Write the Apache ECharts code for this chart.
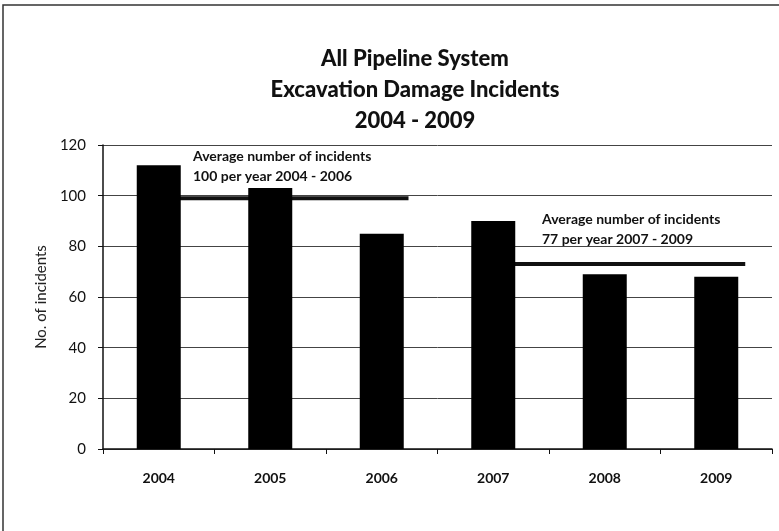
<!DOCTYPE html>
<html>
<head>
<meta charset="utf-8">
<script src="https://cdn.jsdelivr.net/npm/echarts@6/dist/echarts.min.js"></script>
<style>
  html, body { margin: 0; padding: 0; background: #fff; }
  #chart { width: 779px; height: 531px; }
</style>
</head>
<body>
<div id="chart"></div>
<script>
// data
var years = ['2004', '2005', '2006', '2007', '2008', '2009'];
var incidents = [112, 103, 85, 90, 69, 68];
var yTicks = [0, 20, 40, 60, 80, 100, 120];

// average lines: level + span in category units (category i centre = i + 0.5)
var avgLevel1 = 99;
var avgSpan1 = [0.5, 2.74];
var avgLevel2 = 73;
var avgSpan2 = [3.5, 5.76];

var font = 'Lato, "Liberation Sans", sans-serif';

var chart = echarts.init(document.getElementById('chart'));
var option = {
    backgroundColor: '#fff',
    animation: false,
    title: {
        text: 'All Pipeline System\nExcavation Damage Incidents\n2004 - 2009',
        left: 410,
        textAlign: 'center',
        top: 38,
        textStyle: {
            fontFamily: font,
            fontSize: 22,
            fontWeight: 900,
            color: '#111',
            lineHeight: 31
        }
    },
    grid: {
        left: 103,
        right: 7,
        top: 145,
        bottom: 82
    },
    xAxis: [
        {
            type: 'category',
            data: years,
            boundaryGap: true,
            axisLine: { lineStyle: { color: '#111', width: 1.5 } },
            axisTick: { show: true, length: 5, alignWithLabel: false, lineStyle: { color: '#111' } },
            axisLabel: { margin: 22, fontFamily: font, fontSize: 14, fontWeight: 'bold', color: '#111' },
            splitLine: { show: false }
        },
        {
            type: 'value',
            min: 0,
            max: years.length,
            show: false
        }
    ],
    yAxis: {
        type: 'value',
        min: yTicks[0],
        max: yTicks[yTicks.length - 1],
        interval: yTicks[1] - yTicks[0],
        name: 'No. of incidents',
        nameLocation: 'middle',
        nameGap: 54,
        nameTextStyle: { fontFamily: font, fontSize: 15, color: '#222' },
        axisLine: { show: true, lineStyle: { color: '#111', width: 1.5 } },
        axisTick: { show: true, length: 5, lineStyle: { color: '#111' } },
        axisLabel: { margin: 17, fontFamily: font, fontSize: 15, color: '#111' },
        splitLine: { show: true, lineStyle: { color: '#444', width: 1 } }
    },
    series: [
        {
            name: 'avg 2004-2006',
            type: 'line',
            xAxisIndex: 1,
            z: 1,
            symbol: 'none',
            lineStyle: { color: '#111', width: 4 },
            data: [[avgSpan1[0], avgLevel1], [avgSpan1[1], avgLevel1]]
        },
        {
            name: 'avg 2007-2009',
            type: 'line',
            xAxisIndex: 1,
            z: 1,
            symbol: 'none',
            lineStyle: { color: '#111', width: 4 },
            data: [[avgSpan2[0], avgLevel2], [avgSpan2[1], avgLevel2]]
        },
        {
            name: 'Incidents',
            type: 'bar',
            z: 3,
            barWidth: 44,
            itemStyle: { color: '#000' },
            data: incidents
        }
    ],
    graphic: [
        {
            type: 'rect',
            shape: { x: 3, y: 5, width: 800, height: 600 },
            style: { fill: 'none', stroke: '#333', lineWidth: 1.5 },
            silent: true
        },
        {
            type: 'text',
            left: 193,
            top: 146,
            style: {
                text: 'Average number of incidents\n100 per year 2004 - 2006',
                fontFamily: font, fontSize: 14, fontWeight: 'bold', fill: '#111', lineHeight: 20
            }
        },
        {
            type: 'text',
            left: 542,
            top: 209,
            style: {
                text: 'Average number of incidents\n77 per year 2007 - 2009',
                fontFamily: font, fontSize: 14, fontWeight: 'bold', fill: '#111', lineHeight: 20
            }
        }
    ]
};
chart.setOption(option);
</script>
</body>
</html>
